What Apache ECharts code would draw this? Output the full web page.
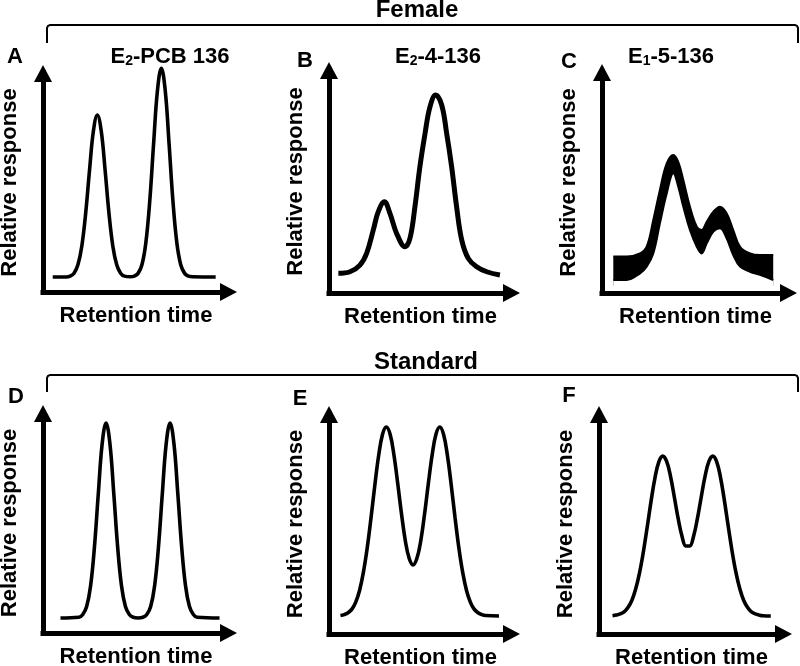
<!DOCTYPE html>
<html>
<head>
<meta charset="utf-8">
<script src="https://cdn.jsdelivr.net/npm/echarts@6/dist/echarts.min.js"></script>
<style>html,body{margin:0;padding:0;background:#fff}#c{width:800px;height:666px}</style>
</head>
<body>
<div id="c"></div>
<script>
// ---------- data (relative units, 0..100 on both axes) ----------
const panelLetters = ['A', 'B', 'C', 'D', 'E', 'F'];
const groupLabels = ['Female', 'Standard'];
const xAxisName = 'Retention time';
const yAxisName = 'Relative response';

// Panel A: E2-PCB 136 (female)
const timeA = [5, 12, 14, 16, 18, 20, 22, 24, 26, 28, 30, 32, 34, 36, 38, 40, 42, 45, 47, 49, 51, 53, 55, 57, 59, 61, 63, 65, 67, 69, 71, 73, 75, 77, 89];
const respA = [6.6, 6.6, 7.0, 8.3, 12.0, 20.2, 34.7, 53.8, 71.0, 78.0, 71.0, 53.8, 34.7, 20.2, 12.0, 8.3, 7.0, 6.7, 7.0, 8.2, 12.0, 21.6, 39.8, 65.1, 88.8, 98.6, 88.8, 65.1, 39.8, 21.6, 12.0, 8.2, 7.0, 6.7, 6.6];

// Panel B: E2-4-136 (female)
const timeB = [4.9, 11.0, 16.2, 19.7, 23.2, 25.8, 29.0, 31.9, 35.4, 39.8, 42.4, 45.0, 47.6, 50.3, 52.9, 55.9, 59.0, 61.6, 64.2, 66.8, 69.5, 72.9, 77.3, 82.6, 89.5];
const respB = [8.5, 9.2, 12.1, 17.2, 27.3, 35.2, 39.5, 34.5, 25.8, 20.0, 23.7, 37.4, 54.7, 69.1, 80.7, 85.7, 81.4, 69.1, 54.7, 37.4, 22.9, 15.0, 11.4, 9.2, 7.8];

// Panel C: E1-5-136 (female) - noisy trace, upper / lower edge of the trace
const timeC = [5.8, 12.6, 19.5, 22.9, 26.3, 29.7, 33.2, 36.6, 39.1, 41.7, 45.1, 48.6, 51.1, 53.7, 57.1, 60.5, 63.9, 67.3, 70.8, 75.9, 81.0, 87.8];
const upperC = [15.9, 15.9, 17.3, 20.2, 31.9, 45.0, 56.6, 60.3, 57.3, 49.3, 37.7, 29.0, 27.5, 31.1, 35.5, 37.7, 34.8, 27.5, 20.2, 17.3, 16.6, 16.6];
const lowerC = [5.7, 5.7, 8.6, 11.5, 17.3, 30.4, 43.5, 52.3, 46.4, 37.7, 27.5, 20.2, 17.3, 21.7, 26.8, 28.3, 23.9, 16.6, 11.5, 9.3, 7.9, 5.7];

// Panel D: standard E2-PCB 136
const timeD = [9, 18.5, 20.5, 22.5, 24.5, 26.5, 28.5, 30.5, 32.5, 34.5, 36.5, 38.5, 40.5, 42.5, 44.5, 46.5, 49, 51.5, 53.5, 55.5, 57.5, 59.5, 61.5, 63.5, 65.5, 67.5, 69.5, 71.5, 73.5, 75.5, 77.5, 79.5, 91];
const respD = [6.6, 6.9, 8.1, 11.6, 20.5, 37.5, 61.0, 83.0, 92.1, 83.0, 61.0, 37.5, 20.5, 11.6, 8.1, 6.9, 6.6, 6.9, 8.1, 11.6, 20.5, 37.5, 61.0, 83.0, 92.1, 83.0, 61.0, 37.5, 20.5, 11.6, 8.1, 6.9, 6.6];

// Panel E: standard E2-4-136
const timeE = [6, 8, 10, 12, 14, 16, 18, 20, 22, 24, 26, 28, 30, 32, 34, 36, 38, 40, 42, 44, 46, 48, 50, 52, 54, 56, 58, 60, 62, 64, 66, 68, 70, 72, 74, 76, 78, 80, 82, 89];
const respE = [8.1, 8.5, 9.3, 10.9, 14.0, 19.1, 27.0, 37.7, 51.0, 65.3, 78.3, 87.5, 90.8, 87.6, 78.5, 65.9, 52.4, 40.7, 33.1, 30.3, 33.1, 40.7, 52.4, 65.9, 78.5, 87.6, 90.8, 87.5, 78.3, 65.3, 51.0, 37.7, 27.0, 19.1, 14.0, 10.9, 9.3, 8.5, 8.1, 7.9];

// Panel F: standard E1-5-136
const timeF = [7, 9, 11, 13, 15, 17, 19, 21, 23, 25, 27, 29, 31, 33, 35, 37, 39, 41, 43, 45, 47, 49, 51, 53, 55, 57, 59, 61, 63, 65, 67, 69, 71, 73, 75, 77, 79, 81, 83, 85, 89];
const respF = [8.0, 8.3, 8.8, 9.7, 11.6, 14.7, 19.7, 26.8, 36.1, 47.0, 58.4, 68.5, 75.5, 78.0, 75.8, 69.4, 60.2, 50.7, 42.9, 38.6, 38.6, 42.9, 50.7, 60.2, 69.4, 75.8, 78.0, 75.5, 68.5, 58.4, 47.0, 36.1, 26.8, 19.7, 14.7, 11.6, 9.7, 8.8, 8.3, 8.0, 7.9];

// ---------- layout ----------
const FONT = '"Liberation Sans", Arial, Helvetica, sans-serif';
const panels = [
  {left: 43,  top: 65,  w: 194, h: 227},
  {left: 329, top: 62,  w: 191, h: 231},
  {left: 602, top: 64,  w: 195, h: 229},
  {left: 43,  top: 405, w: 194, h: 228},
  {left: 329, top: 406, w: 191, h: 228},
  {left: 599, top: 406, w: 193, h: 228}
];
const M = 8; // distance from axis-line end to arrow tip

const pairs = (xs, ys) => xs.map((x, i) => [x, ys[i]]);

const grids = [], xAxes = [], yAxes = [];
panels.forEach((p, i) => {
  grids.push({left: p.left, top: p.top + M, width: p.w - M, height: p.h - M,
              containLabel: false, outerBoundsMode: 'none'});
  const line = {show: true, onZero: false, symbol: ['none', 'triangle'], symbolSize: [18, 17],
                symbolOffset: [0, M - 8.5], lineStyle: {color: '#000', width: 5, cap: 'square'}};
  const nameStyle = {color: '#000', fontSize: 22, fontWeight: 'bold', fontFamily: FONT};
  xAxes.push({gridIndex: i, type: 'value', min: 0, max: 100 * (p.w - M) / p.w, z: 5,
    axisLine: line, axisTick: {show: false}, axisLabel: {show: false}, splitLine: {show: false},
    name: xAxisName, nameLocation: 'middle', nameGap: 13, nameTextStyle: nameStyle});
  yAxes.push({gridIndex: i, type: 'value', min: 0, max: 100 * (p.h - M) / p.h, z: 5,
    axisLine: line, axisTick: {show: false}, axisLabel: {show: false}, splitLine: {show: false},
    name: yAxisName, nameLocation: 'middle', nameGap: 22, nameTextStyle: nameStyle});
});

const base = (i, data, width) => ({
  type: 'line', xAxisIndex: i, yAxisIndex: i, data: data, showSymbol: false, smooth: 0.4,
  clip: false, silent: true, lineStyle: {color: '#000', width: width}
});

const series = [
  base(0, pairs(timeA, respA), 3.6),
  base(1, pairs(timeB, respB), 5),
  // noisy band of C: black fill under the upper edge, white fill under the lower edge
  Object.assign(base(2, pairs(timeC, upperC), 2), {areaStyle: {color: '#000', opacity: 1, origin: 3.2}}),
  Object.assign(base(2, pairs(timeC, lowerC), 2), {areaStyle: {color: '#fff', opacity: 1, origin: 2.4}}),
  base(3, pairs(timeD, respD), 3.6),
  base(4, pairs(timeE, respE), 3.6),
  base(5, pairs(timeF, respF), 3.6)
];

// ---------- annotations ----------
const txt = (x, y, text, size, rich) => {
  const style = {text: text, fill: '#000', font: 'bold ' + size + 'px ' + FONT,
          align: 'center', verticalAlign: 'middle', textAlign: 'center', textVerticalAlign: 'middle'};
  if (rich) style.rich = rich;
  return {type: 'text', x: x, y: y, silent: true, style: style};
};
const subRich = {
  b: {fontSize: 22, fontWeight: 'bold', fontFamily: FONT, fill: '#000', verticalAlign: 'bottom', lineHeight: 26},
  s: {fontSize: 14, fontWeight: 'bold', fontFamily: FONT, fill: '#000', verticalAlign: 'bottom', lineHeight: 12}
};
const bracket = (y, yEnd, x0, x1) => ({
  type: 'polyline', silent: true,
  shape: {points: [[x0, yEnd], [x0, y + 3], [x0 + 0.9, y + 0.9], [x0 + 3, y], [x1 - 3, y], [x1 - 0.9, y + 0.9], [x1, y + 3], [x1, yEnd]]},
  style: {stroke: '#000', lineWidth: 2, fill: null}
});
const letterPos = [[15, 57], [305, 61], [569, 62], [16, 397], [300, 399], [569, 396]];
const graphics = [
  bracket(25, 43, 47, 798),
  bracket(375, 392, 47, 798),
  txt(417, 10, groupLabels[0], 24),
  txt(426, 362, groupLabels[1], 24),
  txt(170, 55, '{b|E}{s|2}{b|-PCB 136}', 22, subRich),
  txt(438, 55, '{b|E}{s|2}{b|-4-136}', 22, subRich),
  txt(671, 55, '{b|E}{s|1}{b|-5-136}', 22, subRich)
];
panelLetters.forEach((l, i) => graphics.push(txt(letterPos[i][0], letterPos[i][1], l, 22)));

const chart = echarts.init(document.getElementById('c'), null, {renderer: 'canvas'});
chart.setOption({
  animation: false,
  backgroundColor: '#fff',
  textStyle: {fontFamily: FONT},
  grid: grids, xAxis: xAxes, yAxis: yAxes, series: series,
  graphic: {elements: graphics}
});
</script>
</body>
</html>
